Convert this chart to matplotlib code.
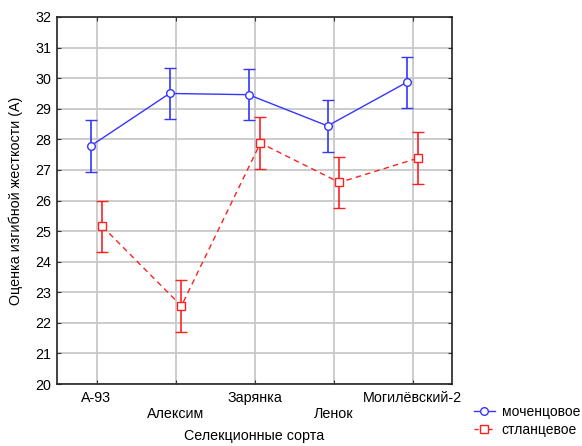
import numpy as np
import matplotlib
matplotlib.use("Agg")
import matplotlib.pyplot as plt
from matplotlib.lines import Line2D

plt.rcParams['font.family'] = ['Liberation Sans', 'DejaVu Sans']

sorts = ["А-93", "Алексим", "Зарянка", "Ленок", "Могилёвский-2"]
moch = [27.78, 29.50, 29.46, 28.44, 29.86]
moch_err = [0.84, 0.84, 0.84, 0.84, 0.84]
stl = [25.15, 22.55, 27.88, 26.59, 27.39]
stl_err = [0.84, 0.84, 0.84, 0.84, 0.84]

x = np.arange(len(sorts))

fig = plt.figure(figsize=(5.82, 4.46), dpi=100)
ax = fig.add_axes([57 / 582, 1 - 384 / 446, 395 / 582, 367 / 446])

blue = "#3535ff"
red = "#ff2020"
fs = 10.3

ax.errorbar(x - 0.075, moch, yerr=moch_err, color=blue, marker="o", ms=5.5,
            mfc="white", mec=blue, mew=1.0, lw=1.0, capsize=4, elinewidth=1.2,
            capthick=1.2, zorder=3)
ax.errorbar(x + 0.075, stl, yerr=stl_err, color=red, marker="s", ms=5.5,
            mfc="white", mec=red, mew=1.0, lw=1.0, ls=(0, (4, 3)), capsize=4,
            elinewidth=1.2, capthick=1.2, zorder=3)

ax.set_xlim(-0.5, 4.5)
ax.set_ylim(20, 32)
ax.set_yticks(range(20, 33))
ax.set_xticks(x)
ax.set_xticklabels([s if i % 2 == 0 else "\n" + s for i, s in enumerate(sorts)])
ax.grid(True, color="#c8c8c8", lw=1.3)
ax.set_axisbelow(True)
ax.tick_params(axis="both", labelsize=fs, direction="in", length=3,
               right=True, top=True, color="#333333")
ax.tick_params(axis="x", pad=5)
ax.tick_params(axis="y", pad=4)
for sp in ax.spines.values():
    sp.set_linewidth(1.2)
    sp.set_color("#222222")

ax.set_xlabel("Селекционные сорта", fontsize=fs, labelpad=6)
ax.set_ylabel("Оценка изгибной жесткости (А)", fontsize=fs, labelpad=9)

handles = [
    Line2D([], [], color=blue, marker="o", ms=5.5, mfc="white", mec=blue, lw=1.0),
    Line2D([], [], color=red, marker="s", ms=5.5, mfc="white", mec=red, lw=1.0,
           ls=(0, (3, 2))),
]
fig.legend(handles, ["моченцовое", "стланцевое"], loc="upper left",
           bbox_to_anchor=(474 / 582, 1 - 405 / 446), frameon=False,
           fontsize=10, handlelength=1.5, handletextpad=0.5, labelspacing=0.3,
           borderaxespad=0, borderpad=0)

fig.savefig("out.png", dpi=100)
